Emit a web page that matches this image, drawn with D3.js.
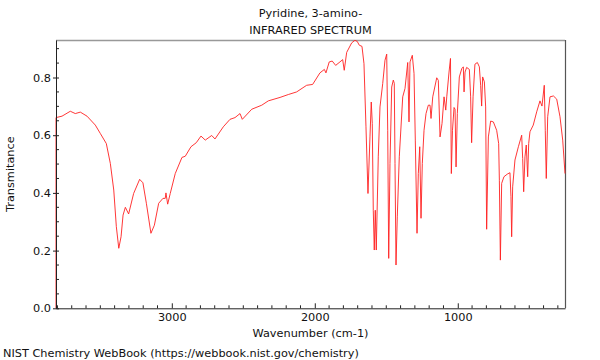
<!DOCTYPE html>
<html>
<head>
<meta charset="utf-8">
<script src="https://cdn.jsdelivr.net/npm/d3@7"></script>
<style>
  body { margin: 0; background: #fff; }
  svg { display: block; font-family: "DejaVu Sans", sans-serif; }
</style>
</head>
<body>
<svg id="chart" width="600" height="360"></svg>
<script>
// ---- data ----
const titleLines = ["Pyridine, 3-amino-", "INFRARED SPECTRUM"];
const xLabel = "Wavenumber (cm-1)";
const yLabel = "Transmitance";
const footer = "NIST Chemistry WebBook (https://webbook.nist.gov/chemistry)";
const xTicks = [3000, 2000, 1000];
const yTicks = [0.0, 0.2, 0.4, 0.6, 0.8];
const xDomain = [3810, 250];
const yDomain = [0, 0.93];

const wavenumber = [3810, 3810, 3768, 3710, 3675, 3640, 3593, 3535, 3500, 3458, 3430, 3406, 3388, 3371, 3355, 3341, 3325, 3302, 3267, 3225, 3202, 3178, 3146, 3122, 3092, 3062, 3046, 3041, 3029, 3011, 2976, 2929, 2906, 2866, 2829, 2796, 2766, 2721, 2698, 2640, 2593, 2558, 2523, 2507, 2441, 2371, 2325, 2243, 2185, 2127, 2057, 2015, 1964, 1933, 1922, 1899, 1878, 1854, 1824, 1805, 1794, 1777, 1742, 1719, 1703, 1689, 1670, 1656, 1642, 1628, 1614, 1605, 1598, 1591, 1584, 1577, 1570, 1556, 1544, 1525, 1509, 1497, 1490, 1483, 1474, 1462, 1451, 1444, 1439, 1432, 1423, 1409, 1385, 1369, 1350, 1341, 1334, 1318, 1306, 1297, 1285, 1276, 1266, 1257, 1248, 1236, 1222, 1206, 1194, 1187, 1175, 1147, 1136, 1124, 1110, 1096, 1084, 1077, 1061, 1051, 1045, 1037, 1026, 1019, 1012, 1003, 989, 972, 961, 956, 949, 938, 919, 910, 903, 893, 880, 863, 849, 840, 833, 826, 814, 805, 798, 786, 770, 751, 728, 714, 709, 702, 693, 677, 654, 635, 628, 623, 616, 600, 576, 553, 546, 539, 530, 521, 511, 504, 495, 472, 448, 425, 411, 395, 388, 381, 371, 355, 331, 308, 285, 266, 250];
const transmittance = [0.0, 0.661, 0.666, 0.683, 0.675, 0.680, 0.666, 0.635, 0.606, 0.571, 0.502, 0.410, 0.283, 0.208, 0.248, 0.323, 0.350, 0.327, 0.398, 0.447, 0.435, 0.364, 0.260, 0.288, 0.364, 0.381, 0.381, 0.400, 0.361, 0.398, 0.467, 0.523, 0.527, 0.560, 0.574, 0.597, 0.583, 0.599, 0.587, 0.629, 0.655, 0.661, 0.675, 0.655, 0.690, 0.704, 0.719, 0.731, 0.741, 0.750, 0.773, 0.776, 0.816, 0.828, 0.816, 0.854, 0.857, 0.842, 0.854, 0.862, 0.825, 0.887, 0.920, 0.929, 0.925, 0.912, 0.908, 0.848, 0.629, 0.398, 0.594, 0.715, 0.641, 0.340, 0.202, 0.340, 0.202, 0.525, 0.698, 0.779, 0.860, 0.881, 0.617, 0.173, 0.502, 0.767, 0.791, 0.780, 0.502, 0.150, 0.317, 0.525, 0.733, 0.762, 0.852, 0.646, 0.854, 0.877, 0.814, 0.583, 0.260, 0.467, 0.560, 0.312, 0.502, 0.617, 0.675, 0.704, 0.704, 0.658, 0.733, 0.799, 0.790, 0.594, 0.641, 0.733, 0.687, 0.733, 0.819, 0.866, 0.467, 0.617, 0.696, 0.690, 0.490, 0.675, 0.802, 0.831, 0.837, 0.750, 0.819, 0.835, 0.828, 0.733, 0.574, 0.733, 0.846, 0.852, 0.837, 0.773, 0.701, 0.802, 0.785, 0.698, 0.274, 0.594, 0.649, 0.646, 0.617, 0.571, 0.444, 0.167, 0.433, 0.456, 0.465, 0.470, 0.387, 0.248, 0.421, 0.514, 0.560, 0.600, 0.519, 0.404, 0.525, 0.566, 0.456, 0.571, 0.612, 0.635, 0.681, 0.719, 0.701, 0.773, 0.617, 0.450, 0.664, 0.733, 0.736, 0.725, 0.664, 0.583, 0.467];

// ---- layout ----
const svg = d3.select("#chart");
const L = 56, R = 565, T = 40, B = 308.3;
const FS = 11.3;

const x = d3.scaleLinear().domain(xDomain).range([L, R]);
const y = d3.scaleLinear().domain(yDomain).range([B, T]);

// frame (top/right)
svg.append("line").attr("x1", L).attr("x2", R).attr("y1", T + 0.5).attr("y2", T + 0.5)
  .attr("stroke", "#999").attr("stroke-width", 1.5);
svg.append("line").attr("x1", R + 0.5).attr("x2", R + 0.5).attr("y1", T).attr("y2", B)
  .attr("stroke", "#555").attr("stroke-width", 1.2);

// spectrum
const pts = wavenumber.map((w, i) => [w, transmittance[i]]);
const line = d3.line().x(d => x(d[0])).y(d => y(d[1]));
svg.append("path").datum(pts).attr("d", line)
  .attr("fill", "none").attr("stroke", "#ff2020").attr("stroke-width", 0.9)
  .attr("stroke-linejoin", "round");

// x axis
const xMinor = d3.range(300, 3801, 100).filter(v => !xTicks.includes(v));
const gx = svg.append("g").attr("transform", `translate(0,${B})`);
gx.call(d3.axisBottom(x).tickValues(xTicks).tickFormat(d3.format("d")).tickSizeInner(-5).tickSizeOuter(0).tickPadding(5));
gx.select(".domain").attr("stroke", "#222");
gx.selectAll(".tick line").attr("stroke", "#222");
gx.selectAll(".tick text").attr("font-size", FS).attr("fill", "#111").attr("font-family", "DejaVu Sans");
gx.selectAll(".minor").data(xMinor).enter().append("line")
  .attr("x1", d => x(d)).attr("x2", d => x(d)).attr("y1", 0).attr("y2", -3)
  .attr("stroke", "#222");

// y axis
const yMinor = d3.range(0.05, 0.93, 0.05).map(v => +v.toFixed(2)).filter(v => !yTicks.some(t => Math.abs(t - v) < 1e-6));
const gy = svg.append("g").attr("transform", `translate(${L},0)`);
gy.call(d3.axisLeft(y).tickValues(yTicks).tickFormat(d3.format(".1f")).tickSizeInner(3).tickSizeOuter(0).tickPadding(2));
gy.select(".domain").attr("stroke", "#222");
gy.selectAll(".tick line").attr("stroke", "#222");
gy.selectAll(".tick").append("line").attr("x1", 0).attr("x2", 3).attr("stroke", "#222");
gy.selectAll(".tick text").attr("font-size", FS).attr("fill", "#111").attr("font-family", "DejaVu Sans");
gy.selectAll(".minor").data(yMinor).enter().append("line")
  .attr("x1", 0).attr("x2", 3).attr("y1", d => y(d)).attr("y2", d => y(d))
  .attr("stroke", "#222");

// titles
const cx = (L + R) / 2;
svg.append("text").attr("x", cx).attr("y", 17).attr("text-anchor", "middle")
  .attr("font-size", FS).attr("fill", "#111").text(titleLines[0]);
svg.append("text").attr("x", cx).attr("y", 34).attr("text-anchor", "middle")
  .attr("font-size", FS).attr("fill", "#111").text(titleLines[1]);
svg.append("text").attr("x", cx).attr("y", 337).attr("text-anchor", "middle")
  .attr("font-size", FS).attr("fill", "#111").text(xLabel);
svg.append("text").attr("transform", `translate(14,${(T + B) / 2}) rotate(-90)`)
  .attr("text-anchor", "middle").attr("font-size", FS).attr("fill", "#111").text(yLabel);
svg.append("text").attr("x", 3).attr("y", 357).attr("font-size", FS).attr("fill", "#111").text(footer);
</script>
</body>
</html>
